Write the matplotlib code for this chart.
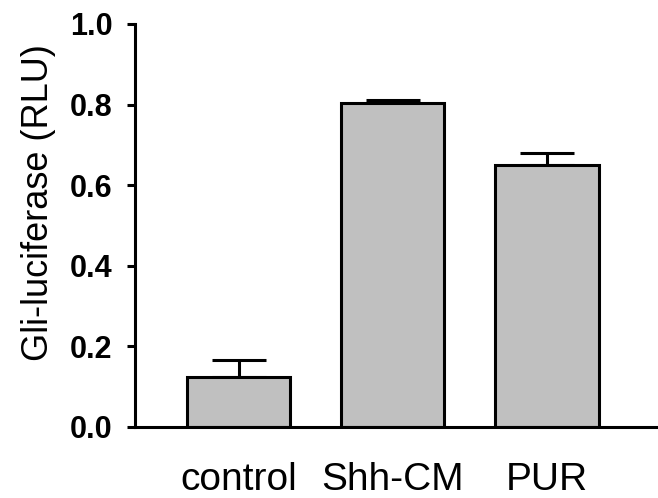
import matplotlib.pyplot as plt

# Gli-luciferase reporter readings
groups = ['control', 'Shh-CM', 'PUR']
means = [0.124, 0.804, 0.650]
sem_upper = [0.043, 0.006, 0.030]
yticks = [0.0, 0.2, 0.4, 0.6, 0.8, 1.0]

plt.rcParams['font.family'] = ['Liberation Sans', 'DejaVu Sans']

fig = plt.figure(figsize=(6.58, 4.98), dpi=100)
ax = fig.add_axes([0.205, 0.1426, 0.795, 0.8094])

x = range(len(groups))
ax.bar(x, means, width=0.67, color='#c0c0c0', edgecolor='black', linewidth=2.2, zorder=2)
ax.errorbar(x, means, yerr=[[0] * len(means), sem_upper], fmt='none', ecolor='black',
            elinewidth=2.2, capsize=19.5, capthick=2.2, zorder=1)

# Axis labels and ticks
ax.set_ylabel('Gli-luciferase (RLU)', fontsize=26)
ax.yaxis.set_label_coords(-0.15, 0.558)
ax.set_xticks(list(x))
ax.set_xticklabels(groups, fontsize=28)
ax.set_yticks(yticks)
ax.set_yticklabels(['%.1f' % t for t in yticks], fontsize=22, fontweight='bold')
ax.tick_params(axis='x', length=0, pad=25)
ax.tick_params(axis='y', length=6, width=2.2, pad=10)

ax.set_xlim(-0.672, 2.72)
ax.set_ylim(0, 1.0)
ax.spines['top'].set_visible(False)
ax.spines['right'].set_visible(False)
ax.spines['left'].set_linewidth(2.2)
ax.spines['bottom'].set_linewidth(2.2)

fig.savefig('out.png', dpi=100)
